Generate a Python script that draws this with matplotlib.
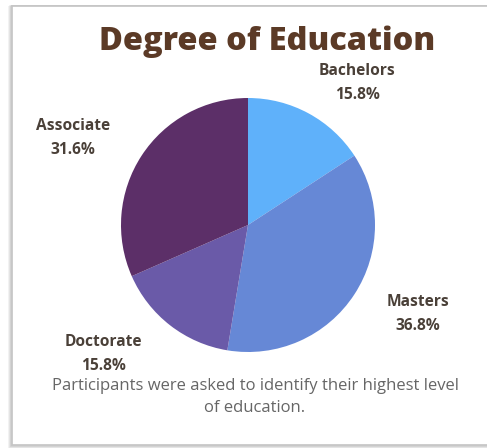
import matplotlib.pyplot as plt
from matplotlib.patches import Rectangle

plt.rcParams['font.family'] = ['Open Sans', 'DejaVu Sans']

categories = ['Bachelors', 'Masters', 'Doctorate', 'Associate']
shares = [15.8, 36.8, 15.8, 31.6]
colors = ['#5fb1fa', '#6688d6', '#6a5aa8', '#5c2f68']

W, H = 487, 448
fig = plt.figure(figsize=(W / 100, H / 100), dpi=100)
ax = fig.add_axes([0, 0, 1, 1])

# card frame with a soft shadow on the left and bottom
for off, c in [(3, '#f0f0f0'), (2, '#e2e2e2'), (1, '#d0d0d0')]:
    ax.add_patch(Rectangle((12 - off, 6), W, 439 + off, fill=False,
                           ec=c, lw=1.2))
ax.add_patch(Rectangle((12, 6), W, 439, fc='white', ec='#c4c4c4', lw=1.2))

# y axis runs downward, so start at -90 and go counterclockwise in data
# space to get a clockwise pie from 12 o'clock on screen
ax.pie(shares, colors=colors, startangle=-90, counterclock=True,
       center=(248, 225), radius=127, frame=True,
       wedgeprops=dict(linewidth=0))
ax.set_xlim(0, W)
ax.set_ylim(H, 0)
ax.set_aspect('equal')
ax.axis('off')

ax.text(267, 42, 'Degree of Education', ha='center', va='center',
        fontsize=23.4, fontweight='heavy', color='#5b3a26')

label_pos = {
    'Bachelors': (357, 83),
    'Masters': (418, 314),
    'Doctorate': (103, 354),
    'Associate': (73, 138),
}
for name, val in zip(categories, shares):
    x, y = label_pos[name]
    ax.text(x, y, f'{name}\n{val}%', ha='center', va='center',
            fontsize=11.2, fontweight='bold', color='#4a4038',
            linespacing=1.6)

ax.text(255, 397, 'Participants were asked to identify their highest level\nof education.',
        ha='center', va='center', fontsize=12, color='#666666',
        linespacing=1.5)

fig.savefig('out.png', dpi=100)
